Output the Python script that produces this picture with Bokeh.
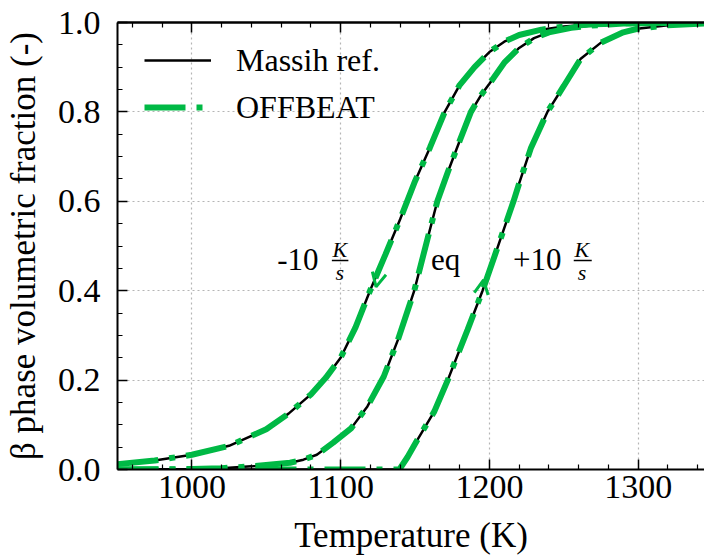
from bokeh.plotting import figure
from bokeh.models import (Range1d, LinearAxis, Legend, LegendItem, Arrow, OpenHead,
                          FixedTicker, PrintfTickFormatter)
from bokeh.core.properties import value
from bokeh.embed import file_html
from bokeh.resources import INLINE

# ---- data ----
temp_cool = [950, 975, 1000, 1025, 1050, 1065, 1080, 1090, 1100, 1110, 1120, 1130, 1140,
             1150, 1160, 1170, 1180, 1190, 1200, 1210, 1220, 1235, 1250, 1270, 1300, 1350]
frac_cool = [0.012, 0.020, 0.033, 0.053, 0.090, 0.125, 0.168, 0.205, 0.25, 0.318, 0.402, 0.48, 0.56,
             0.645, 0.72, 0.80, 0.86, 0.90, 0.934, 0.957, 0.972, 0.984, 0.991, 0.996, 0.999, 1.0]

temp_eq = [950, 1000, 1020, 1040, 1066, 1075, 1084, 1095, 1107, 1118, 1129, 1138.5, 1149.5, 1157,
           1165, 1172, 1180, 1187.6, 1194.3, 1200, 1210, 1220, 1230, 1240, 1255, 1268, 1290, 1350]
frac_eq = [0.0, 0.001, 0.003, 0.007, 0.015, 0.022, 0.033, 0.060, 0.092, 0.141, 0.208, 0.29, 0.40, 0.498,
           0.60, 0.665, 0.735, 0.80, 0.837, 0.863, 0.91, 0.943, 0.965, 0.978, 0.988, 0.993, 0.998, 1.0]

temp_heat = [950, 1000, 1100, 1139.5, 1145, 1151.7, 1163, 1172, 1185.3, 1195.4, 1205, 1216.2, 1220,
             1228, 1239, 1250, 1261.4, 1275, 1290, 1299.5, 1320, 1350]
frac_heat = [0.0, 0.0, 0.0, 0.0, 0.028, 0.067, 0.13, 0.2, 0.3125, 0.40, 0.492, 0.60, 0.64,
             0.72, 0.80, 0.858, 0.919, 0.955, 0.978, 0.986, 0.994, 0.999]

x_ticks = [1000, 1100, 1200, 1300]
x_minor = [960, 980, 1020, 1040, 1060, 1080, 1120, 1140, 1160, 1180, 1220, 1240, 1260, 1280, 1320, 1340]
y_ticks = [0.0, 0.2, 0.4, 0.6, 0.8, 1.0]
y_minor = [0.05, 0.1, 0.15, 0.25, 0.3, 0.35, 0.45, 0.5, 0.55, 0.65, 0.7, 0.75, 0.85, 0.9, 0.95]

series_names = ["Massih ref.", "OFFBEAT"]
x_label = "Temperature (K)"
y_label = "β phase volumetric fraction (-)"

GREEN = "#00B945"
FONT = "Liberation Serif"

p = figure(width=704, height=557, output_backend="svg", toolbar_location=None,
           x_range=Range1d(950, 1344.6), y_range=Range1d(0, 1.0),
           min_border_left=116, min_border_right=0, min_border_top=22, min_border_bottom=87,
           background_fill_color="white", border_fill_color="white")
p.outline_line_color = None

xt = FixedTicker(ticks=x_ticks, minor_ticks=x_minor)
yt = FixedTicker(ticks=y_ticks, minor_ticks=y_minor)

for ax in p.xaxis:
    ax.ticker = xt
for ax in p.yaxis:
    ax.ticker = yt
    ax.formatter = PrintfTickFormatter(format="%.1f")

def style_axis(ax):
    ax.axis_line_color = "black"
    ax.axis_line_width = 2
    ax.major_tick_in = 10
    ax.major_tick_out = 0
    ax.minor_tick_in = 5
    ax.minor_tick_out = 0
    ax.major_tick_line_width = 1.5
    ax.minor_tick_line_width = 1.2
    ax.major_label_text_font = FONT
    ax.major_label_text_font_size = "34px"
    ax.major_label_text_color = "black"
    ax.major_label_text_line_height = 1.0
    ax.axis_label_text_font = FONT
    ax.axis_label_text_font_size = "35px"
    ax.axis_label_text_font_style = "normal"
    ax.axis_label_text_color = "black"
    ax.axis_label_text_line_height = 1.0

style_axis(p.xaxis[0])
style_axis(p.yaxis[0])
p.xaxis.axis_label = x_label
p.yaxis.axis_label = y_label
p.xaxis.major_label_standoff = 6
p.yaxis.major_label_standoff = 17
p.xaxis.axis_label_standoff = 15
p.yaxis.axis_label_standoff = 12

# top frame: major and minor inward ticks, no labels
top_major = LinearAxis(ticker=FixedTicker(ticks=[], minor_ticks=x_ticks))
top_minor = LinearAxis(ticker=FixedTicker(ticks=[], minor_ticks=x_minor))
for ax, ln in ((top_major, 10), (top_minor, 5)):
    ax.axis_line_color = "black"
    ax.axis_line_width = 2
    ax.major_tick_in = 0
    ax.major_tick_out = 0
    ax.minor_tick_in = ln
    ax.minor_tick_out = 0
    ax.minor_tick_line_width = 1.5 if ln == 10 else 1.2
    ax.major_label_standoff = 0
    ax.axis_label_standoff = 0
    p.add_layout(ax, "above")

p.xgrid.ticker = xt
p.ygrid.ticker = yt
for g in (p.xgrid, p.ygrid):
    g.grid_line_color = "#b5b5b5"
    g.grid_line_dash = "2 3"
    g.grid_line_width = 1.2

curves = [(temp_cool, frac_cool), (temp_eq, frac_eq), (temp_heat, frac_heat)]
black_r = []
green_r = []
for tx, fy in curves:
    black_r.append(p.line(tx, fy, line_color="black", line_width=2.5))
for tx, fy in curves:
    green_r.append(p.line(tx, fy, line_color=GREEN, line_width=6, line_dash="41 11 6 11"))

legend = Legend(items=[LegendItem(label=series_names[0], renderers=[black_r[0]]),
                       LegendItem(label=series_names[1], renderers=[green_r[0]])],
                location=(27, 342), glyph_width=67, glyph_height=40, spacing=7,
                label_standoff=25, padding=0, margin=0,
                border_line_alpha=0, background_fill_alpha=0,
                label_text_font=FONT, label_text_font_size="32px", label_text_color="black")
p.add_layout(legend)

# annotations
p.text(x=[1057.4, 1160.7, 1215.8], y=[0.47, 0.47, 0.47], text=["-10", "eq", "+10"],
       text_font=value(FONT), text_font_size="31px", text_color="black",
       text_align="left", text_baseline="middle")
p.text(x=[1099.5, 1262.2], y=[0.492, 0.492], text=["K", "K"],
       text_font=value(FONT), text_font_size="22px", text_font_style="italic",
       text_color="black", text_align="center", text_baseline="middle")
p.text(x=[1099.5, 1262.2], y=[0.441, 0.441], text=["s", "s"],
       text_font=value(FONT), text_font_size="22px", text_font_style="italic",
       text_color="black", text_align="center", text_baseline="middle")
p.segment(x0=[1094.1, 1256.7], y0=[0.4676, 0.4676], x1=[1105.2, 1268.8], y1=[0.4676, 0.4676],
          line_color="black", line_width=1.3)

p.add_layout(Arrow(end=OpenHead(size=14, line_color=GREEN, line_width=3),
                   x_start=1126.8, y_start=0.452, x_end=1123.8, y_end=0.4085, line_alpha=0))
p.add_layout(Arrow(end=OpenHead(size=14, line_color=GREEN, line_width=3),
                   x_start=1193.8, y_start=0.380, x_end=1196.1, y_end=0.424, line_alpha=0))

open("out.html", "w").write(file_html(p, INLINE))
